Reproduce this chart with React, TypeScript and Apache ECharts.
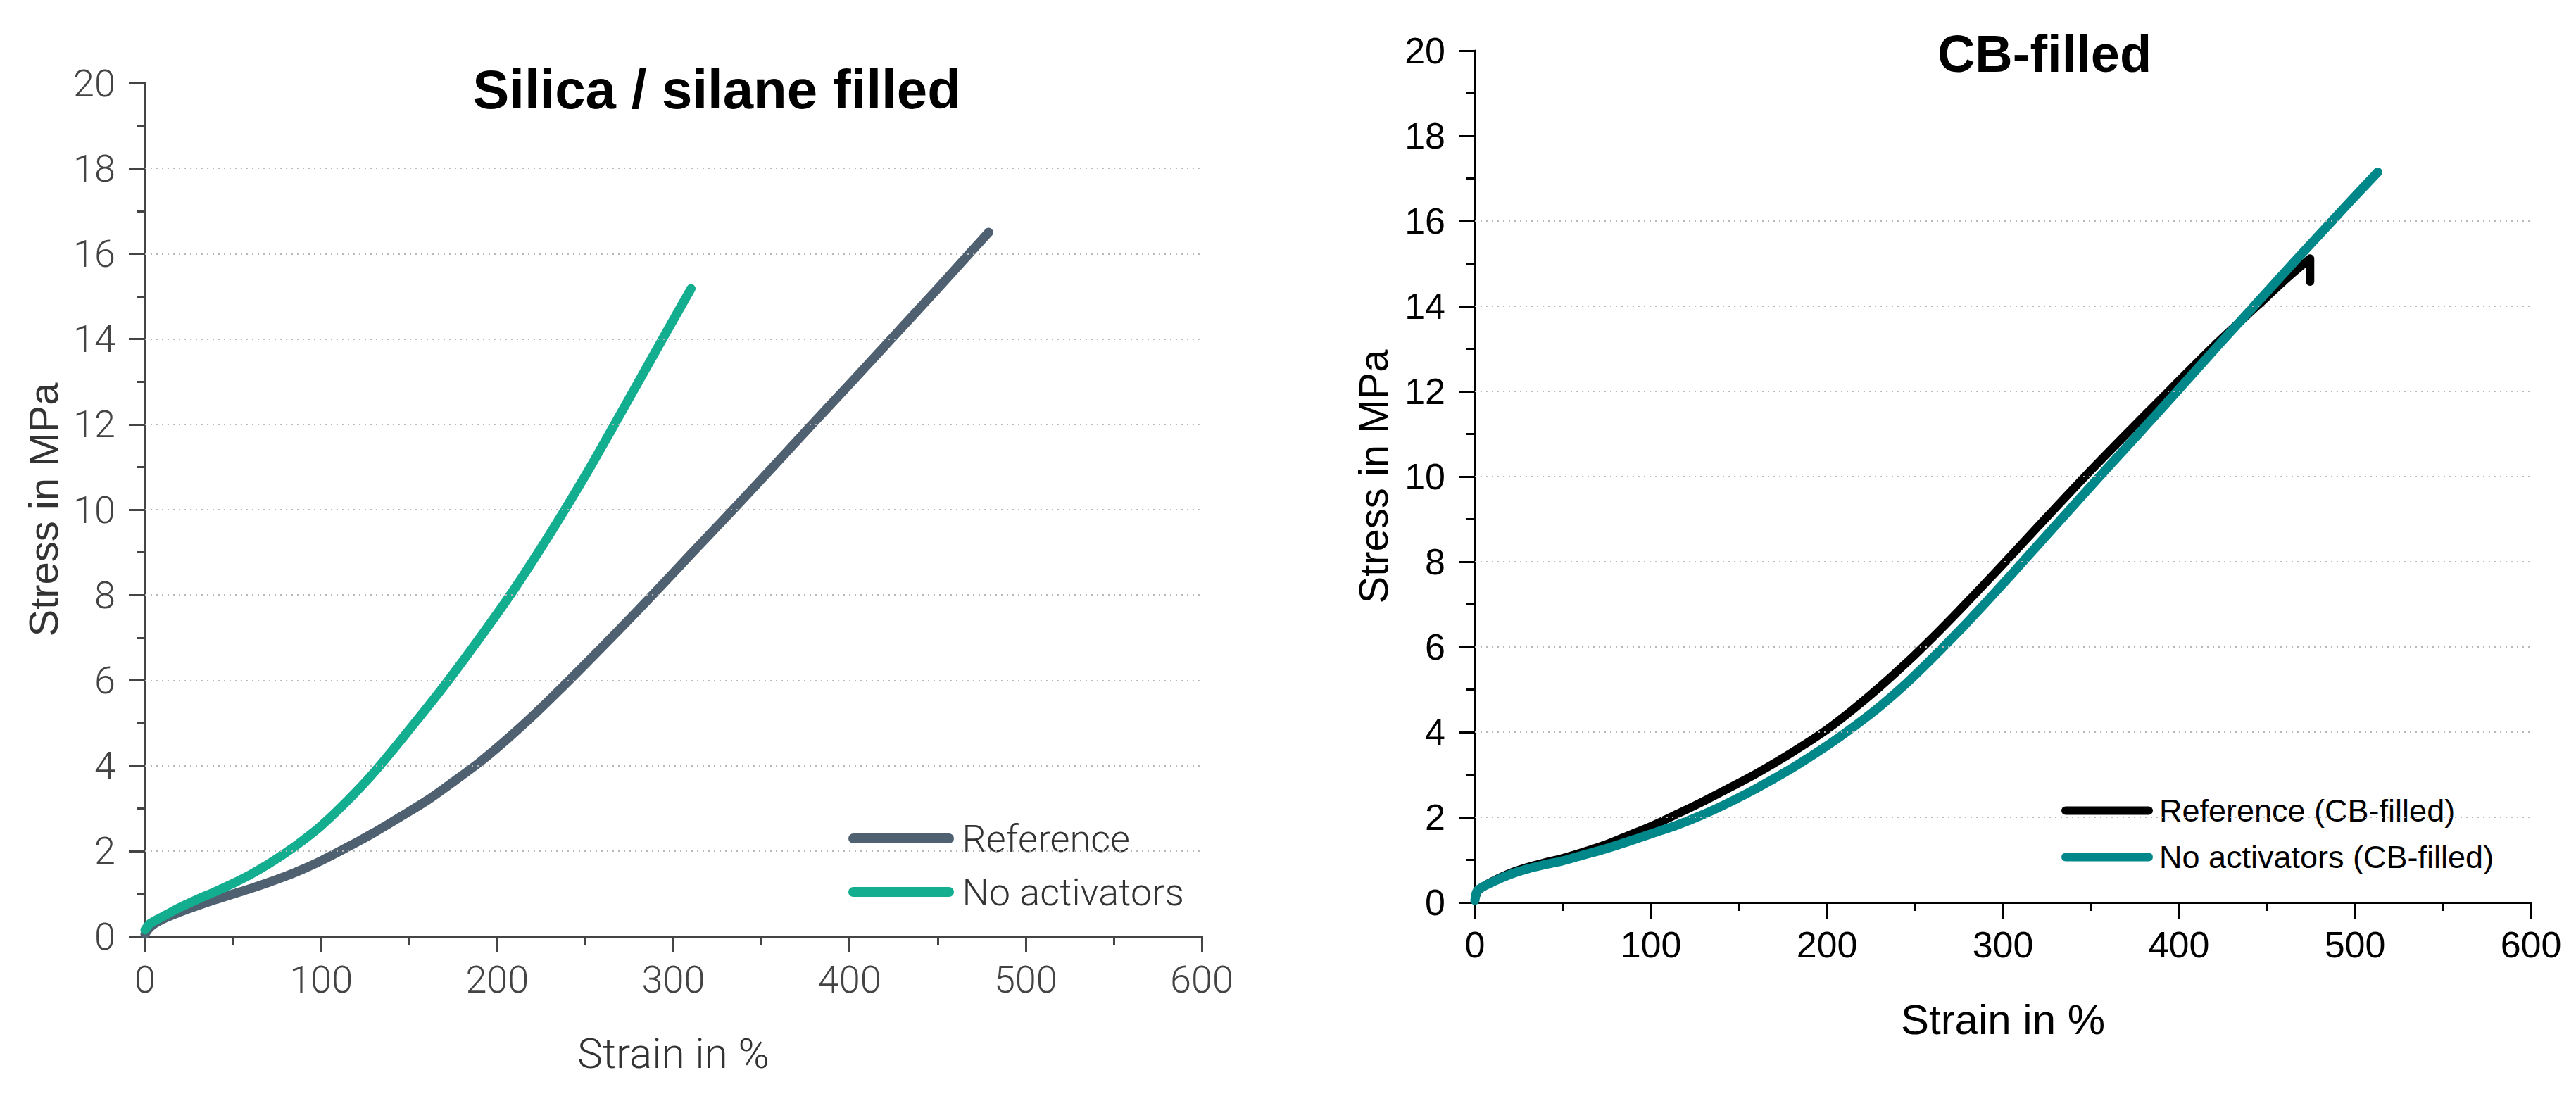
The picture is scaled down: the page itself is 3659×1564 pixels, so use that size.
import React, { useEffect, useRef } from "react";
import * as echarts from "echarts";

// ---------- data ----------
const strainTicks = { min: 0, max: 600, interval: 100 };
const stressTicks = { min: 0, max: 20, interval: 2 };

const silicaGridValues = [2, 4, 6, 8, 10, 12, 14, 16, 18];
const cbGridValues = [2, 4, 6, 8, 10, 12, 14, 16];

const silicaNames = ["Reference", "No activators"];
const cbNames = ["Reference (CB-filled)", "No activators (CB-filled)"];

const silicaReference: [number, number][] = [
  [0, 0.05], [2, 0.17], [5, 0.28], [10, 0.4], [20, 0.57], [30, 0.72], [40, 0.86],
  [50, 0.99], [60, 1.12], [70, 1.26], [80, 1.41], [90, 1.58], [100, 1.77],
  [115, 2.09], [130, 2.43], [145, 2.8], [160, 3.18], [175, 3.62], [190, 4.08],
  [205, 4.6], [220, 5.16], [235, 5.76], [250, 6.38], [270, 7.22], [290, 8.08],
  [310, 8.96], [335, 10.05], [356, 10.98], [377, 11.92], [400, 12.94], [421, 13.88],
  [450, 15.18], [479, 16.5],
];

const silicaNoActivators: [number, number][] = [
  [0, 0.15], [3, 0.3], [10, 0.46], [20, 0.68], [30, 0.87], [40, 1.05], [50, 1.24],
  [60, 1.45], [70, 1.69], [80, 1.96], [90, 2.26], [100, 2.59], [115, 3.18],
  [130, 3.84], [150, 4.84], [170, 5.88], [190, 6.99], [210, 8.16], [230, 9.44],
  [250, 10.8], [270, 12.25], [290, 13.72], [310, 15.18],
];

const cbReference: [number, number][] = [
  [0, 0.1], [2, 0.28], [5, 0.38], [10, 0.5], [20, 0.69], [30, 0.83], [40, 0.94],
  [50, 1.04], [62, 1.19], [75, 1.37], [87, 1.57], [100, 1.79], [115, 2.08],
  [130, 2.38], [145, 2.7], [160, 3.03], [180, 3.52], [200, 4.06], [215, 4.54],
  [230, 5.06], [245, 5.62], [260, 6.22], [275, 6.85], [290, 7.5], [305, 8.16],
  [320, 8.83], [347, 10.02], [372, 11.08], [396, 12.08], [420, 13.07], [445, 14.03],
  [462, 14.68], [474.5, 15.12], [474.5, 14.58],
];

const cbNoActivators: [number, number][] = [
  [0, 0.05], [1, 0.25], [3, 0.33], [10, 0.48], [20, 0.66], [30, 0.79], [40, 0.89],
  [50, 0.98], [62, 1.12], [75, 1.27], [87, 1.43], [100, 1.61], [115, 1.82],
  [130, 2.07], [145, 2.36], [160, 2.68], [180, 3.15], [200, 3.68], [215, 4.12],
  [230, 4.6], [245, 5.14], [260, 5.74], [275, 6.37], [290, 7.03], [305, 7.71],
  [320, 8.4], [354, 9.96], [377, 11.0], [400, 12.05], [421, 13.02], [443, 14.02],
  [465, 15.02], [487, 16.0], [500, 16.58], [513, 17.15],
];

// ---------- styles ----------
const GREY = "#4f6070";
const GREEN = "#13ad90";
const BLACK = "#000000";
const TEAL = "#00878a";
const capsule =
  "path://M7,0 L143,0 A7,7 0 0 1 143,14 L7,14 A7,7 0 0 1 7,0 Z";

function axisPair(opts: {
  grid: number;
  color: string;
  font: string;
  weight: any;
  tickFont: number;
  nameFont: string;
  nameWeight: any;
  nameColor: string;
}) {
  const { grid, color, font, weight, tickFont, nameFont, nameWeight, nameColor } = opts;
  const common = {
    gridIndex: grid,
    type: "value" as const,
    axisLine: { show: true, onZero: false, lineStyle: { color, width: 3 } },
    axisTick: { show: true, inside: false, length: 23, lineStyle: { color, width: 3 } },
    minorTick: { show: true, splitNumber: 2, length: 12, lineStyle: { color, width: 3 } },
    splitLine: { show: false },
    minorSplitLine: { show: false },
  };
  const x = {
    ...common,
    min: strainTicks.min,
    max: strainTicks.max,
    interval: strainTicks.interval,
    name: "Strain in %",
    nameLocation: "middle",
    nameGap: 136,
    nameTextStyle: { fontFamily: font, fontWeight: weight, fontSize: 60, color: nameColor, lineHeight: 60 },
    axisLabel: { margin: 34, fontFamily: font, fontWeight: weight, fontSize: tickFont, lineHeight: tickFont, color },
  };
  const y = {
    ...common,
    min: stressTicks.min,
    max: stressTicks.max,
    interval: stressTicks.interval,
    name: "Stress in MPa",
    nameLocation: "middle",
    nameGap: 116,
    nameTextStyle: { fontFamily: nameFont, fontWeight: nameWeight, fontSize: 58, color: nameColor, lineHeight: 58 },
    axisLabel: { margin: 42, fontFamily: font, fontWeight: weight, fontSize: tickFont, lineHeight: tickFont, color },
  };
  return { x, y };
}

export default function App() {
  const ref = useRef<HTMLDivElement>(null);

  useEffect(() => {
    document.body.style.margin = "0";
    document.body.style.overflow = "hidden";
    if (!ref.current) return;
    const chart = echarts.init(ref.current, undefined, { renderer: "svg" });

    const left = axisPair({
      grid: 0, color: "#444444", font: "Roboto", weight: 300, tickFont: 54,
      nameFont: "Liberation Sans", nameWeight: "normal", nameColor: "#333333",
    });
    const right = axisPair({
      grid: 1, color: "#000000", font: "Liberation Sans", weight: "normal", tickFont: 52,
      nameFont: "Liberation Sans", nameWeight: "normal", nameColor: "#000000",
    });

    const gridSeries = (idx: number, vals: number[]) => ({
      type: "line",
      xAxisIndex: idx,
      yAxisIndex: idx,
      data: [[0, 0]],
      symbol: "none",
      silent: true,
      z: 1,
      lineStyle: { opacity: 0 },
      markLine: {
        silent: true,
        symbol: "none",
        animation: false,
        label: { show: false },
        lineStyle: { type: [2, 6], color: "#b8b8b8", width: 2 },
        data: vals.map((v) => ({ yAxis: v })),
      },
    });

    const dataSeries = (idx: number, name: string, data: [number, number][], color: string, width: number) => ({
      type: "line",
      name,
      xAxisIndex: idx,
      yAxisIndex: idx,
      data,
      symbol: "none",
      smooth: 0.3,
      z: 3,
      color,
      itemStyle: { color },
      lineStyle: { color, width, cap: "round", join: "round" },
    });

    chart.setOption({
      animation: false,
      backgroundColor: "#ffffff",
      title: [
        {
          text: "Silica / silane filled",
          left: 1013,
          top: 83,
          textAlign: "center",
          textStyle: { fontFamily: "Liberation Sans", fontWeight: "bold", fontSize: 78, lineHeight: 78, color: "#000" },
        },
        {
          text: "CB-filled",
          left: 2899,
          top: 34,
          textAlign: "center",
          textStyle: { fontFamily: "Liberation Sans", fontWeight: "bold", fontSize: 74, lineHeight: 74, color: "#000" },
        },
      ],
      grid: [
        { left: 206, top: 118, width: 1501, height: 1212, containLabel: false },
        { left: 2095, top: 72, width: 1500, height: 1210, containLabel: false },
      ],
      xAxis: [left.x, right.x],
      yAxis: [left.y, right.y],
      legend: [
        {
          data: silicaNames,
          orient: "vertical",
          left: 1200,
          top: 1159,
          itemWidth: 151,
          itemHeight: 14,
          itemGap: 22,
          icon: capsule,
          selectedMode: false,
          textStyle: { fontFamily: "Roboto", fontWeight: 300, fontSize: 54, lineHeight: 54, color: "#333", padding: [0, 0, 0, 6] },
        },
        {
          data: cbNames,
          orient: "vertical",
          left: 2923,
          top: 1124,
          itemWidth: 130,
          itemHeight: 14,
          itemGap: 21,
          icon: capsule,
          selectedMode: false,
          textStyle: { fontFamily: "Liberation Sans", fontSize: 45, lineHeight: 45, color: "#000", padding: [0, 0, 0, 4] },
        },
      ],
      series: [
        gridSeries(0, silicaGridValues),
        gridSeries(1, cbGridValues),
        dataSeries(0, silicaNames[0], silicaReference, GREY, 13),
        dataSeries(0, silicaNames[1], silicaNoActivators, GREEN, 13),
        dataSeries(1, cbNames[0], cbReference, BLACK, 12),
        dataSeries(1, cbNames[1], cbNoActivators, TEAL, 13),
      ],
    });

    return () => chart.dispose();
  }, []);

  return <div ref={ref} style={{ width: 3659, height: 1564 }} />;
}
